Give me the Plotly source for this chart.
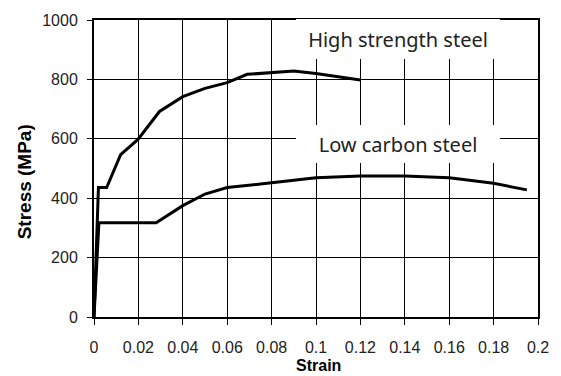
import plotly.graph_objects as go

# High strength steel curve
hs_strain = [0, 0.002, 0.0057, 0.012, 0.0198, 0.0295, 0.04, 0.05, 0.06, 0.069, 0.09, 0.1, 0.12]
hs_stress = [0, 436, 436, 547, 598, 692, 742, 770, 789, 817, 828, 820, 798]

# Low carbon steel curve
lc_strain = [0, 0.0022, 0.028, 0.04, 0.05, 0.06, 0.08, 0.1, 0.12, 0.14, 0.16, 0.18, 0.195]
lc_stress = [0, 317, 317, 375, 414, 436, 452, 469, 475, 475, 469, 450, 428]

x_ticks = [0, 0.02, 0.04, 0.06, 0.08, 0.1, 0.12, 0.14, 0.16, 0.18, 0.2]
y_ticks = [0, 200, 400, 600, 800, 1000]

labels = ["High strength steel", "Low carbon steel"]
label_x = [0.1369, 0.1369]
label_y = [936, 581]

fig = go.Figure()
fig.add_trace(go.Scatter(x=hs_strain, y=hs_stress, mode="lines",
                         line=dict(color="black", width=3), cliponaxis=False))
fig.add_trace(go.Scatter(x=lc_strain, y=lc_stress, mode="lines",
                         line=dict(color="black", width=3), cliponaxis=False))

for t, lx, ly, h in zip(labels, label_x, label_y, [40, 38]):
    fig.add_annotation(x=lx, y=ly, xref="x", yref="y", text=t, showarrow=False,
                       font=dict(family="Noto Sans", size=20, color="#222"),
                       bgcolor="white", width=204, height=h, borderpad=0, borderwidth=0,
                       xanchor="center", yanchor="middle")

fig.add_annotation(x=-0.1566, y=0.455, xref="paper", yref="paper", text="<b>Stress (MPa)</b>",
                   showarrow=False, textangle=-90,
                   font=dict(family="Liberation Sans", size=19, color="black"),
                   xanchor="center", yanchor="middle")
fig.add_annotation(x=0.506, y=-0.164, xref="paper", yref="paper", text="<b>Strain</b>",
                   showarrow=False,
                   font=dict(family="Liberation Sans", size=16, color="black"),
                   xanchor="center", yanchor="middle")

fig.update_xaxes(range=[0, 0.2], tickvals=x_ticks, ticktext=[f"{v:g}" for v in x_ticks],
                 showgrid=True, gridcolor="black", gridwidth=1,
                 showline=True, linecolor="black", linewidth=2, mirror=True,
                 ticks="outside", ticklen=6, tickcolor="black", ticklabelstandoff=9,
                 zeroline=False, tickfont=dict(family="Liberation Sans", size=16, color="#222"))
fig.update_yaxes(range=[0, 1000], tickvals=y_ticks,
                 showgrid=True, gridcolor="black", gridwidth=1,
                 showline=True, linecolor="black", linewidth=2, mirror=True,
                 ticks="outside", ticklen=5, tickcolor="black", ticklabelstandoff=6,
                 zeroline=False, tickfont=dict(family="Liberation Sans", size=16, color="#222"))

fig.update_layout(width=561, height=376, margin=dict(l=94, r=20, t=18, b=59),
                  showlegend=False, plot_bgcolor="white", paper_bgcolor="white")

fig.write_html("out.html")
